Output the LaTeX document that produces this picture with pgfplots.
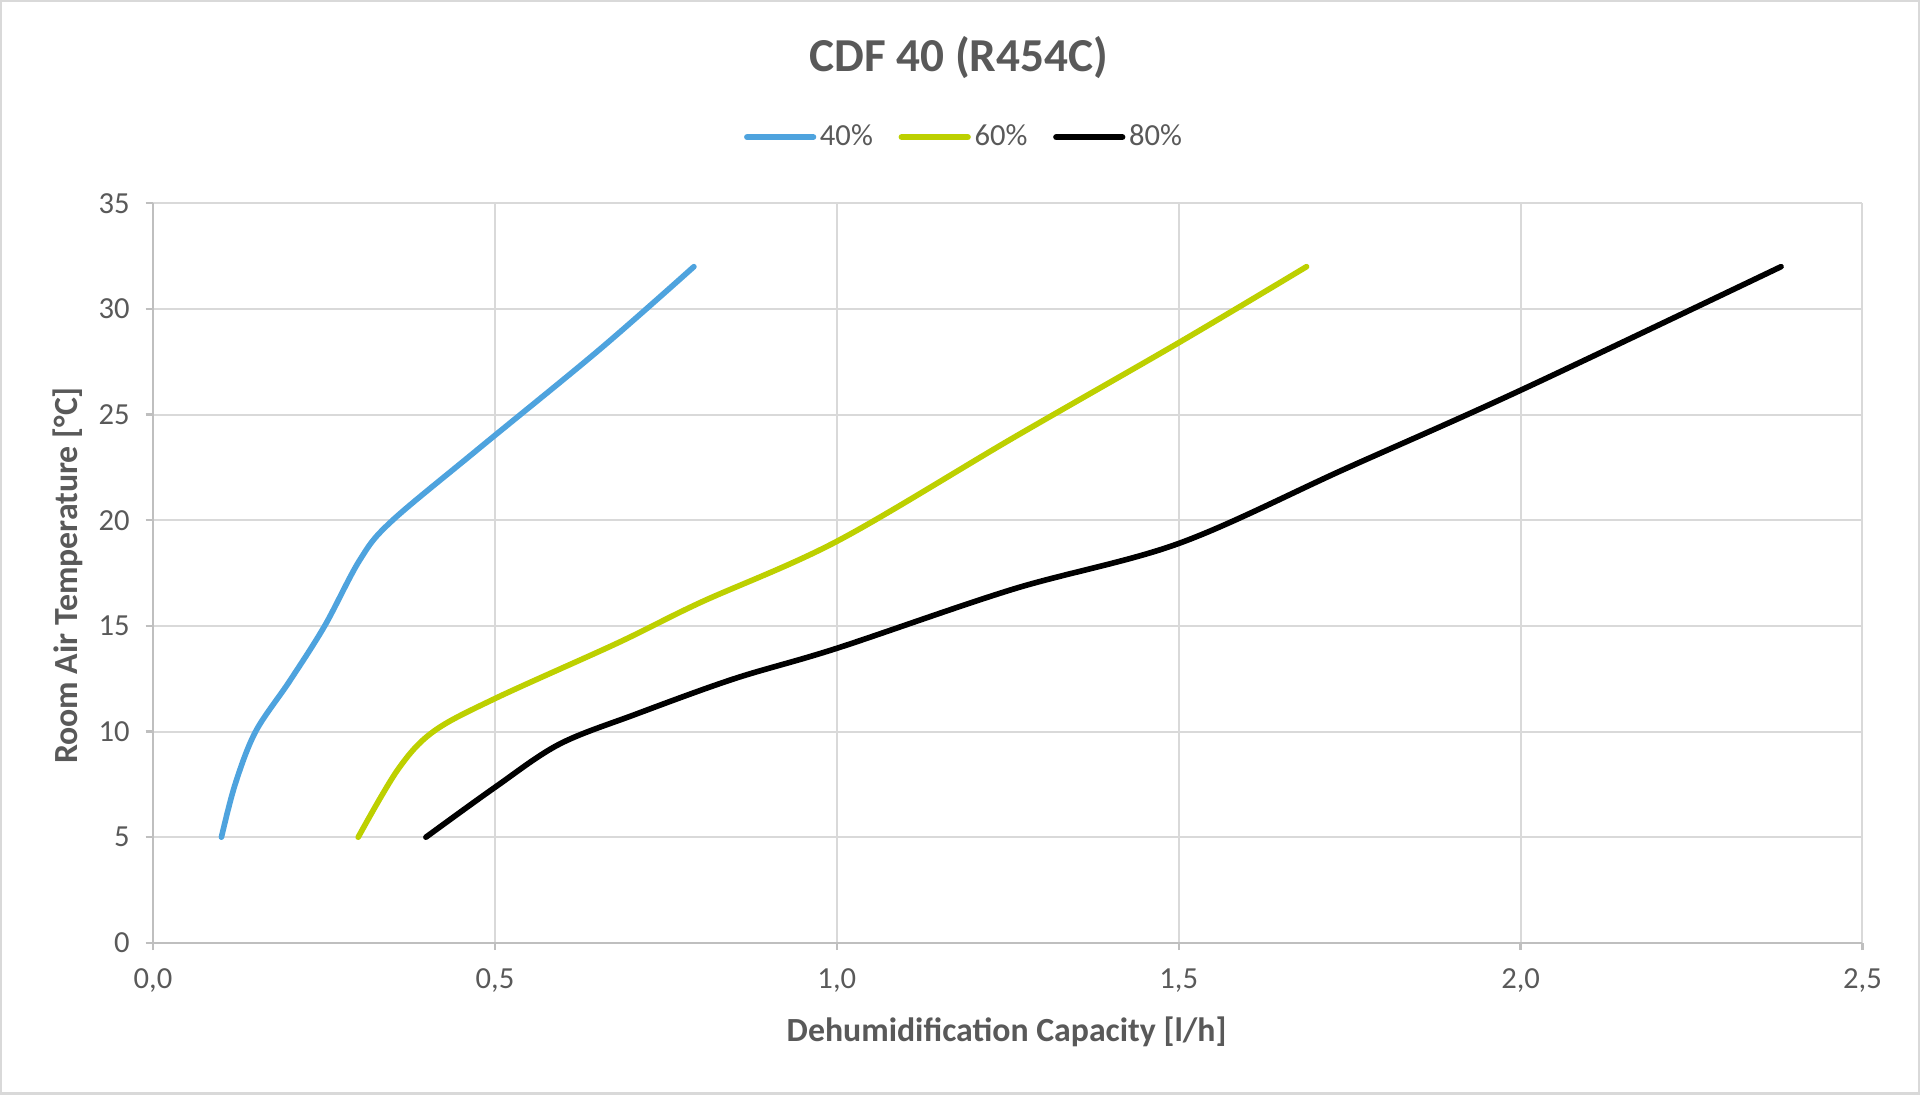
\documentclass[border=0pt]{standalone}
\usepackage{pgfplots}
\pgfplotsset{compat=1.18}
\usepackage{fontspec}
\setmainfont{Carlito}
\definecolor{txt}{HTML}{595959}
\definecolor{gridc}{HTML}{D9D9D9}
\definecolor{axc}{HTML}{BFBFBF}
\definecolor{cblue}{HTML}{4EA3DE}
\definecolor{cgreen}{HTML}{BDD000}
\begin{document}
\begin{tikzpicture}
\draw[gridc, line width=1pt] (0.5pt,0.5pt) rectangle (783.5pt,446.5pt);
\begin{axis}[
  at={(62.5pt,62pt)}, anchor=south west,
  scale only axis, width=698pt, height=302pt,
  xmin=0, xmax=2.5, ymin=0, ymax=35,
  xtick={0,0.5,...,2.5}, ytick={0,5,...,35},
  axis x line*=bottom, axis y line*=left,
  axis line style={axc, line width=0.9pt, -},
  grid=major, major grid style={gridc, line width=0.8pt},
  tick align=outside, major tick length=3pt,
  tick style={axc, line width=0.9pt},
  /pgf/number format/assume math mode=true,
  xticklabel style={/pgf/number format/use comma, /pgf/number format/fixed, /pgf/number format/fixed zerofill, /pgf/number format/precision=1, yshift=-4pt},
  ticklabel style={font=\fontsize{12.5}{14}\selectfont, text=txt},
  y tick label style={xshift=-3pt},
  xlabel={Dehumidification Capacity [l/h]},
  ylabel={Room Air Temperature [°C]},
  xlabel style={at={(axis description cs:0.4993,-0.1209)}, anchor=center, font=\bfseries\fontsize{13.8}{16}\selectfont, text=txt},
  ylabel style={at={(axis description cs:-0.0501,0.4967)}, anchor=center, font=\bfseries\fontsize{13.8}{16}\selectfont, text=txt},
  title={CDF 40 (R454C)},
  title style={at={(axis description cs:0.4713,1.177)}, anchor=center, font=\bfseries\fontsize{19.3}{22}\selectfont, text=txt},
  legend columns=3,
  legend style={at={(axis description cs:0.4749,1.0894)}, anchor=center, draw=none, fill=none,
    font=\fontsize{12.5}{14}\selectfont, text=txt,
    /tikz/every even column/.append style={column sep=9pt},
    nodes={inner sep=1.5pt}},
  legend image code/.code={\draw[#1, line width=2.5pt, line cap=round] (0pt,0pt) -- (27pt,0pt);},
  every axis plot/.append style={line width=2.3pt, smooth, tension=0.55, line cap=round, line join=round},
]
\addplot[cblue] coordinates {
(0.100,5) (0.120,7.5) (0.150,10) (0.200,12.4) (0.251,15) (0.302,18.1) (0.347,19.9) (0.473,23.3) (0.652,28.05) (0.791,32)
};
\addlegendentry{40\%}
\addplot[cgreen] coordinates {
(0.300,5) (0.358,8.2) (0.410,10.0) (0.500,11.56) (0.680,14.2) (0.800,16.1) (1.0,19.0) (1.258,23.9) (1.5,28.4) (1.687,32)
};
\addlegendentry{60\%}
\addplot[black] coordinates {
(0.399,5) (0.500,7.36) (0.594,9.4) (0.706,10.82) (0.850,12.5) (1.0,13.94) (1.258,16.74) (1.5,18.9) (1.744,22.44) (2.0,26.15) (2.381,32)
};
\addlegendentry{80\%}
\end{axis}
\end{tikzpicture}
\end{document}
